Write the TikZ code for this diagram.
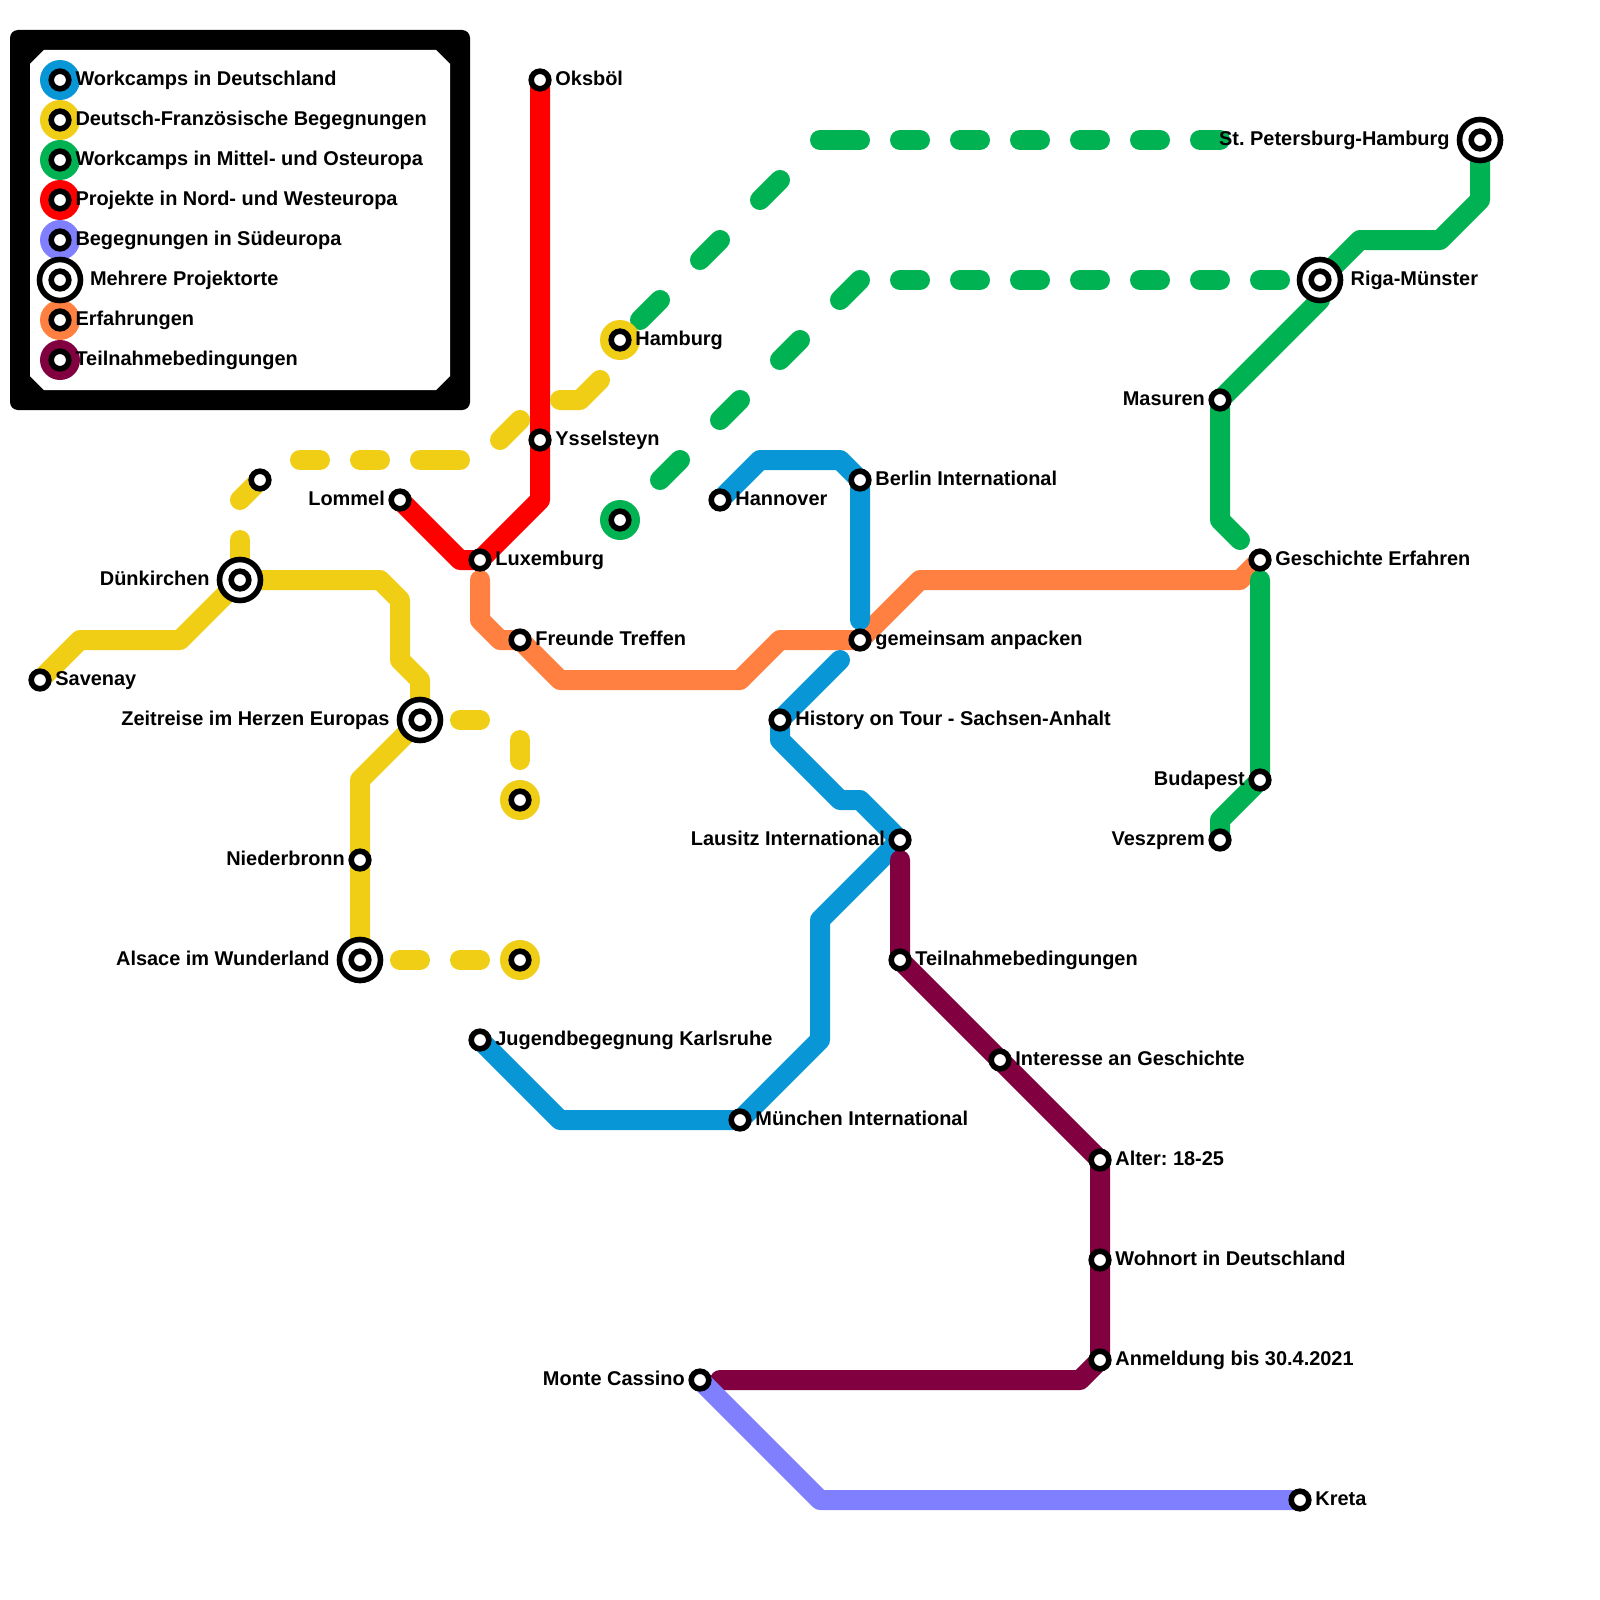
\documentclass[tikz,border=0pt]{standalone}
\usepackage{fontspec}
\setmainfont{Liberation Sans}
\frenchspacing
\definecolor{cblue}{HTML}{0896D7}
\definecolor{cyellow}{HTML}{F0CE15}
\definecolor{cgreen}{HTML}{00B251}
\definecolor{cred}{HTML}{FF0000}
\definecolor{cperi}{HTML}{8080FF}
\definecolor{corange}{HTML}{FF8040}
\definecolor{cmaroon}{HTML}{800040}
\pgfdeclarelayer{lines}
\pgfsetlayers{lines,main}
\tikzset{
  x=0.5pt,y=-0.5pt,
  st/.style={circle,draw=black,fill=white,line width=2.8pt,minimum size=8.8pt,inner sep=0pt,outer sep=0pt},
  ringst/.style={circle,draw=black,fill=white,line width=2.8pt,minimum size=20.5pt,inner sep=0pt,outer sep=0pt},
  blob/.style={circle,fill=#1,minimum size=20pt,inner sep=0pt,outer sep=0pt},
  txt/.style={font=\fontsize{9.97pt}{12pt}\selectfont\bfseries\frenchspacing,text=black,inner sep=0pt,outer sep=0pt},
  lblr/.style={txt,anchor=base west,xshift=7.7pt,yshift=-2.6pt},
  lbll/.style={txt,anchor=base east,xshift=-7.6pt,yshift=-2.6pt},
  leg/.style={txt,anchor=base west,yshift=-2.6pt},
  metro/.style={draw=#1,line width=10pt,line cap=round,line join=round},
}
\begin{document}
\begin{tikzpicture}
\useasboundingbox (0,0) rectangle (1600,1600);
% legend frame
\fill[black,rounded corners=4pt] (10,30) rectangle (470,410);
\fill[white] (44,50) -- (436,50) -- (450,64) -- (450,376) -- (436,390) -- (44,390) -- (30,376) -- (30,64) -- cycle;
% legend symbols
\node[blob=cblue] (lg1b) at (60,80) {};
\node[blob=cyellow] (lg2b) at (60,120) {};
\node[blob=cgreen] (lg3b) at (60,160) {};
\node[blob=cred] (lg4b) at (60,200) {};
\node[blob=cperi] (lg5b) at (60,240) {};
\node[blob=corange] (lg7b) at (60,320) {};
\node[blob=cmaroon] (lg8b) at (60,360) {};
\node[ringst] (lg6b) at (60,280) {};
\foreach \n/\y in {lg1/80,lg2/120,lg3/160,lg4/200,lg5/240,lg6/280,lg7/320,lg8/360}
  \node[st] (\n) at (60,\y) {};
\node[leg] (lg1t) at (75.5,80) {Workcamps in Deutschland};
\node[leg] (lg2t) at (75.5,120) {Deutsch-Französische Begegnungen};
\node[leg] (lg3t) at (75.5,160) {Workcamps in Mittel- und Osteuropa};
\node[leg] (lg4t) at (75.5,200) {Projekte in Nord- und Westeuropa};
\node[leg] (lg5t) at (75.5,240) {Begegnungen in Südeuropa};
\node[leg] (lg6t) at (90,280) {Mehrere Projektorte};
\node[leg] (lg7t) at (75.5,320) {Erfahrungen};
\node[leg] (lg8t) at (75.5,360) {Teilnahmebedingungen};
% blobs of map stations
\node[blob=cyellow] (hamb) at (620,340) {};
\node[blob=cgreen] (gstb) at (620,520) {};
\node[blob=cyellow] (y1b) at (520,800) {};
\node[blob=cyellow] (y2b) at (520,960) {};
% interchange rings
\node[ringst] (dunR) at (240,580) {};
\node[ringst] (zeiR) at (420,720) {};
\node[ringst] (alsR) at (360,960) {};
\node[ringst] (rigR) at (1320,280) {};
\node[ringst] (stpR) at (1480,140) {};
% stations
\node[st] (oks) at (540,80) {};
\node[st] (yss) at (540,440) {};
\node[st] (lux) at (480,560) {};
\node[st] (lom) at (400,500) {};
\node[st] (ham) at (620,340) {};
\node[st] (ys0) at (260,480) {};
\node[st] (dun) at (240,580) {};
\node[st] (sav) at (40,680) {};
\node[st] (zei) at (420,720) {};
\node[st] (nie) at (360,860) {};
\node[st] (als) at (360,960) {};
\node[st] (y1) at (520,800) {};
\node[st] (y2) at (520,960) {};
\node[st] (gst) at (620,520) {};
\node[st] (fre) at (520,640) {};
\node[st] (gem) at (860,640) {};
\node[st] (ges) at (1260,560) {};
\node[st] (han) at (720,500) {};
\node[st] (ber) at (860,480) {};
\node[st] (his) at (780,720) {};
\node[st] (lau) at (900,840) {};
\node[st] (jug) at (480,1040) {};
\node[st] (mue) at (740,1120) {};
\node[st] (tei) at (900,960) {};
\node[st] (int) at (1000,1060) {};
\node[st] (alt) at (1100,1160) {};
\node[st] (woh) at (1100,1260) {};
\node[st] (anm) at (1100,1360) {};
\node[st] (mon) at (700,1380) {};
\node[st] (kre) at (1300,1500) {};
\node[st] (mas) at (1220,400) {};
\node[st] (bud) at (1260,780) {};
\node[st] (ves) at (1220,840) {};
\node[st] (rig) at (1320,280) {};
\node[st] (stp) at (1480,140) {};
% labels
\node[lblr] (oksT) at (oks) {Oksböl};
\node[lblr] (yssT) at (yss) {Ysselsteyn};
\node[lblr] (luxT) at (lux) {Luxemburg};
\node[lbll] (lomT) at (lom) {Lommel};
\node[lblr] (hamT) at (ham) {Hamburg};
\node[lbll,xshift=-7.6pt] (dunT) at (dun) {Dünkirchen};
\node[lblr] (savT) at (sav) {Savenay};
\node[lbll,xshift=-7.6pt] (zeiT) at (zei) {Zeitreise im Herzen Europas};
\node[lbll] (nieT) at (nie) {Niederbronn};
\node[lbll,xshift=-7.6pt] (alsT) at (als) {Alsace im Wunderland};
\node[lblr] (freT) at (fre) {Freunde Treffen};
\node[lblr] (gemT) at (gem) {gemeinsam anpacken};
\node[lblr] (gesT) at (ges) {Geschichte Erfahren};
\node[lblr] (hanT) at (han) {Hannover};
\node[lblr] (berT) at (ber) {Berlin International};
\node[lblr] (hisT) at (his) {History on Tour - Sachsen-Anhalt};
\node[lbll] (lauT) at (lau) {Lausitz International};
\node[lblr] (jugT) at (jug) {Jugendbegegnung Karlsruhe};
\node[lblr] (mueT) at (mue) {München International};
\node[lblr] (teiT) at (tei) {Teilnahmebedingungen};
\node[lblr] (intT) at (int) {Interesse an Geschichte};
\node[lblr] (altT) at (alt) {Alter: 18-25};
\node[lblr] (wohT) at (woh) {Wohnort in Deutschland};
\node[lblr] (anmT) at (anm) {Anmeldung bis 30.4.2021};
\node[lbll] (monT) at (mon) {Monte Cassino};
\node[lblr] (kreT) at (kre) {Kreta};
\node[lbll] (masT) at (mas) {Masuren};
\node[lbll] (budT) at (bud) {Budapest};
\node[lbll] (vesT) at (ves) {Veszprem};
\node[lblr,xshift=7.6pt] (rigT) at (rig) {Riga-Münster};
\node[lbll,xshift=-7.6pt] (stpT) at (stp) {St. Petersburg-Hamburg};
% free ends of the lines
\coordinate (bEnd1) at (860,620);
\coordinate (bStart2) at (840,660);
\coordinate (gEnd1) at (1240,540);
\coordinate (gStart2) at (1260,580);
\coordinate (oStart) at (480,580);
\coordinate (mStart) at (900,860);
\coordinate (mEnd) at (720,1380);
\begin{pgfonlayer}{lines}
% red
\draw[metro=cred] (oks.center) -- (yss.center) -- (540,500) -- (lux.center) -- (460,560) -- (lom.center);
% orange
\draw[metro=corange] (oStart) -- (480,620) -- (500,640) -- (fre.center) -- (560,680) -- (740,680) -- (780,640) -- (gem.center) -- (920,580) -- (1240,580) -- (ges.center);
% blue
\draw[metro=cblue] (han.center) -- (760,460) -- (840,460) -- (ber.center) -- (bEnd1);
\draw[metro=cblue] (bStart2) -- (his.center) -- (780,740) -- (840,800) -- (860,800) -- (lau.center) -- (820,920) -- (820,1040) -- (mue.center) -- (560,1120) -- (jug.center);
% maroon
\draw[metro=cmaroon] (mStart) -- (tei.center) -- (int.center) -- (alt.center) -- (woh.center) -- (anm.center) -- (1080,1380) -- (mEnd);
% periwinkle
\draw[metro=cperi] (mon.center) -- (820,1500) -- (kre.center);
% yellow
\draw[metro=cyellow] (sav.center) -- (80,640) -- (180,640) -- (dun.center) -- (380,580) -- (400,600) -- (400,660) -- (420,680) -- (zei.center) -- (360,780) -- (nie.center) -- (als.center);
\draw[metro=cyellow] (ys0.center) -- (240,500);
\draw[metro=cyellow] (240,540) -- (dun.center);
\draw[metro=cyellow] (300,460) -- (320,460);
\draw[metro=cyellow] (360,460) -- (380,460);
\draw[metro=cyellow] (420,460) -- (460,460);
\draw[metro=cyellow] (500,440) -- (520,420);
\draw[metro=cyellow] (560,400) -- (580,400) -- (600,380);
\draw[metro=cyellow] (400,960) -- (420,960);
\draw[metro=cyellow] (460,960) -- (480,960);
\draw[metro=cyellow] (460,720) -- (480,720);
\draw[metro=cyellow] (520,740) -- (520,760);
% green
\draw[metro=cgreen] (stp.center) -- (1480,200) -- (1440,240) -- (1360,240) -- (rig.center) -- (1320,300) -- (mas.center) -- (1220,520) -- (gEnd1);
\draw[metro=cgreen] (gStart2) -- (bud.center) -- (1220,820) -- (ves.center);
\foreach \a/\b/\c/\d in {640/320/660/300,700/260/720/240,760/200/780/180,820/140/860/140,900/140/920/140,960/140/980/140,1020/140/1040/140,1080/140/1100/140,1140/140/1160/140,1200/140/1220/140,660/480/680/460,720/420/740/400,780/360/800/340,840/300/860/280,900/280/920/280,960/280/980/280,1020/280/1040/280,1080/280/1100/280,1140/280/1160/280,1200/280/1220/280,1260/280/1280/280}
  \draw[metro=cgreen] (\a,\b) -- (\c,\d);
\end{pgfonlayer}
\end{tikzpicture}
\end{document}
